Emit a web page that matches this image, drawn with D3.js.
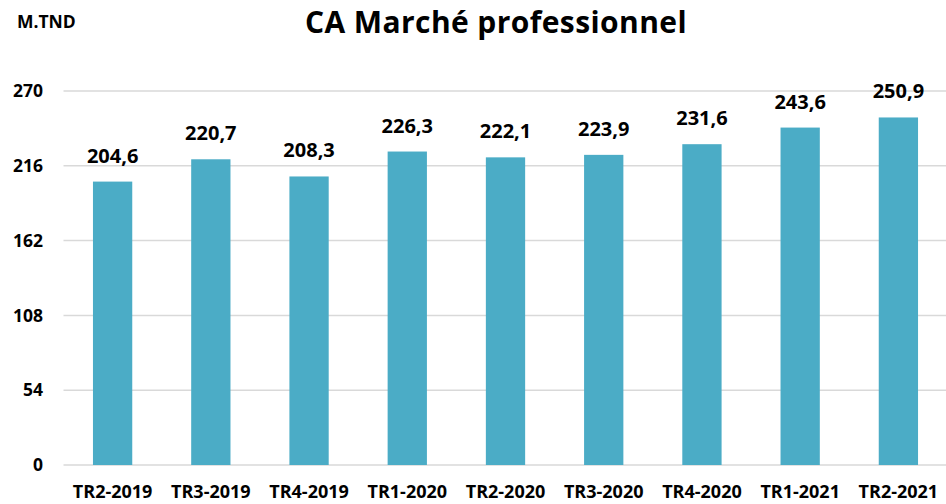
<!DOCTYPE html>
<html>
<head>
<meta charset="utf-8">
<script src="https://cdn.jsdelivr.net/npm/d3@7"></script>
<style>
  body { margin: 0; background: #fff; }
  text { font-family: "Open Sans", Lato, sans-serif; font-weight: bold; fill: #000; }
</style>
</head>
<body>
<svg id="chart"></svg>
<script>
var screen = {width: 946, height: 504}
var margin = {top: 91, right: 0, bottom: 39, left: 63.5};

// data
var quarters = ["TR2-2019", "TR3-2019", "TR4-2019", "TR1-2020", "TR2-2020", "TR3-2020", "TR4-2020", "TR1-2021", "TR2-2021"]
var revenue = [204.6, 220.7, 208.3, 226.3, 222.1, 223.9, 231.6, 243.6, 250.9]
var yTicks = [0, 54, 108, 162, 216, 270]

var data = quarters.map(function(q, i) { return {q: q, v: revenue[i]} })

var svg = d3.select("#chart")
    .attr("width", screen.width)
    .attr("height", screen.height)

var plotBottom = screen.height - margin.bottom

var xScale = d3.scaleBand()
    .domain(quarters)
    .range([margin.left, 947.5])
    .paddingInner(0.6)
    .paddingOuter(0.3)

var yScale = d3.scaleLinear()
    .domain([0, 270])
    .range([plotBottom, margin.top])

// gridlines
svg.append("g")
    .selectAll("line")
    .data(yTicks)
    .enter().append("line")
    .attr("x1", margin.left)
    .attr("x2", screen.width)
    .attr("y1", function(d) { return yScale(d) })
    .attr("y2", function(d) { return yScale(d) })
    .attr("stroke", "#d9d9d9")
    .attr("stroke-width", 1.5)

// y axis labels
var yAxis = d3.axisLeft(yScale).tickValues(yTicks).tickSize(0).tickPadding(0)
var gy = svg.append("g")
    .attr("transform", "translate(43,0)")
    .call(yAxis)
gy.select(".domain").remove()
gy.selectAll("text").style("font-size", "17.5px").attr("font-family", null)

// bars
svg.append("g")
    .selectAll("rect")
    .data(data)
    .enter().append("rect")
    .attr("x", function(d) { return xScale(d.q) })
    .attr("width", xScale.bandwidth())
    .attr("y", function(d) { return yScale(d.v) })
    .attr("height", function(d) { return plotBottom - yScale(d.v) })
    .attr("fill", "#4bacc6")

// value labels
svg.append("g")
    .selectAll("text")
    .data(data)
    .enter().append("text")
    .attr("x", function(d) { return xScale(d.q) + xScale.bandwidth() / 2 })
    .attr("y", function(d) { return yScale(d.v) - 19 })
    .attr("text-anchor", "middle")
    .style("font-size", "20px")
    .text(function(d) { return d3.format(".1f")(d.v).replace(".", ",") })

// x axis labels
var xAxis = d3.axisBottom(xScale).tickSize(0).tickPadding(0)
var gx = svg.append("g")
    .attr("transform", "translate(0," + (plotBottom + 20) + ")")
    .call(xAxis)
gx.select(".domain").remove()
gx.selectAll("text").style("font-size", "18px").attr("font-family", null)

// title + unit
svg.append("text")
    .attr("x", 496)
    .attr("y", 33)
    .attr("text-anchor", "middle")
    .style("font-size", "30px")
    .style("letter-spacing", "0.4px")
    .text("CA Marché professionnel")

svg.append("text")
    .attr("x", 17)
    .attr("y", 28)
    .style("font-size", "17.5px")
    .text("M.TND")
</script>
</body>
</html>
